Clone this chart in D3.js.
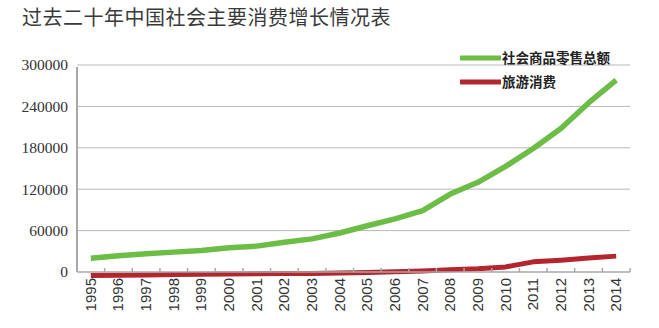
<!DOCTYPE html>
<html>
<head>
<meta charset="utf-8">
<script src="https://cdn.jsdelivr.net/npm/d3@7"></script>
<style>
  html, body { margin: 0; padding: 0; background: #fff; }
  svg { display: block; }
</style>
</head>
<body>
<svg id="chart" width="659" height="328"></svg>
<script>
// 年份
const years = ["1995","1996","1997","1998","1999","2000","2001","2002","2003","2004",
               "2005","2006","2007","2008","2009","2010","2011","2012","2013","2014"];
// 社会商品零售总额（亿元）
const retailTotal = [20000, 23500, 26500, 28800, 31000, 35000, 37500, 43000, 48000, 56500,
                     67000, 77000, 89000, 113000, 130000, 153000, 179000, 208000, 245000, 278000];
// 旅游消费（亿元）
const tourismSpend = [800, 1200, 1600, 2000, 2400, 2800, 3200, 3600, 3800, 4400,
                      5200, 6000, 7400, 9000, 10500, 13200, 20500, 23000, 26000, 28800];
// 纵轴刻度
const yTicks = [0, 60000, 120000, 180000, 240000, 300000];

const title = "过去二十年中国社会主要消费增长情况表";
const seriesNames = ["社会商品零售总额", "旅游消费"];
const seriesColors = ["#6cbd45", "#b3262d"];

const svg = d3.select("#chart");
const plotLeft = 77, plotRight = 630, plotTop = 65, plotBottom = 272;

const x = d3.scaleBand().domain(years).range([plotLeft, plotRight]);
const y = d3.scaleLinear().domain([0, 300000]).range([plotBottom, plotTop]);

// 标题
svg.append("text")
  .attr("x", 22).attr("y", 25)
  .attr("font-family", "'Noto Sans CJK SC', sans-serif")
  .attr("font-size", 20).attr("letter-spacing", 0.5)
  .attr("fill", "#3a3a3a")
  .text(title);

// 横向网格线
svg.append("g")
  .selectAll("line")
  .data(yTicks.filter(d => d > 0))
  .join("line")
  .attr("x1", plotLeft).attr("x2", plotRight)
  .attr("y1", d => y(d)).attr("y2", d => y(d))
  .attr("stroke", "#b8b8b8").attr("stroke-width", 1);

// 纵轴
const yAxis = svg.append("g")
  .attr("transform", `translate(${plotLeft},0)`)
  .call(d3.axisLeft(y).tickValues(yTicks).tickSize(0).tickPadding(9).tickFormat(d3.format("d")));
yAxis.select(".domain").remove();
yAxis.selectAll("text")
  .attr("font-family", "'Liberation Serif', 'Times New Roman', serif")
  .attr("font-size", 15.5).attr("fill", "#333");
svg.append("line")
  .attr("x1", plotLeft).attr("x2", plotLeft)
  .attr("y1", y(297000)).attr("y2", plotBottom)
  .attr("stroke", "#a8a8a8").attr("stroke-width", 2);

// 折线
const line = d3.line()
  .x((d, i) => x(years[i]) + x.bandwidth() / 2)
  .y(d => y(d))
  .curve(d3.curveLinear);

// 旅游消费线略微下移，使其贴在横轴下沿显示
svg.append("path")
  .datum(tourismSpend)
  .attr("transform", "translate(0,4)")
  .attr("fill", "none")
  .attr("stroke", seriesColors[1]).attr("stroke-width", 5)
  .attr("stroke-linejoin", "round")
  .attr("d", line);

// 横轴
const xAxisG = svg.append("g");
xAxisG.append("line")
  .attr("x1", plotLeft).attr("x2", plotRight)
  .attr("y1", plotBottom).attr("y2", plotBottom)
  .attr("stroke", "#a8a8a8").attr("stroke-width", 1.5);
xAxisG.selectAll("line.tick")
  .data(years.slice(1).concat(["end"]))
  .join("line")
  .attr("class", "tick")
  .attr("x1", d => d === "end" ? plotRight : x(d))
  .attr("x2", d => d === "end" ? plotRight : x(d))
  .attr("y1", plotBottom).attr("y2", plotBottom - 4)
  .attr("stroke", "#a8a8a8").attr("stroke-width", 1.5);

svg.append("path")
  .datum(retailTotal)
  .attr("fill", "none")
  .attr("stroke", seriesColors[0]).attr("stroke-width", 5.5)
  .attr("stroke-linejoin", "round")
  .attr("d", line);

// 年份标签（竖排）
svg.append("g")
  .selectAll("text")
  .data(years)
  .join("text")
  .attr("transform", d => `translate(${x(d) + x.bandwidth() / 2 + 5},278) rotate(-90)`)
  .attr("text-anchor", "end")
  .attr("font-family", "'Liberation Sans', Arial, sans-serif")
  .attr("font-size", 15).attr("fill", "#333")
  .text(d => d);

// 图例
const legend = svg.append("g")
  .selectAll("g")
  .data(seriesNames)
  .join("g")
  .attr("transform", (d, i) => `translate(460,${58 + i * 24})`);
legend.append("line")
  .attr("x1", 0).attr("x2", 41)
  .attr("stroke", (d, i) => seriesColors[i]).attr("stroke-width", 5);
legend.append("text")
  .attr("x", 42).attr("dy", "0.36em")
  .attr("font-family", "'Noto Sans CJK SC', sans-serif")
  .attr("font-size", 13.5).attr("font-weight", "bold")
  .attr("fill", "#222")
  .text(d => d);
</script>
</body>
</html>
